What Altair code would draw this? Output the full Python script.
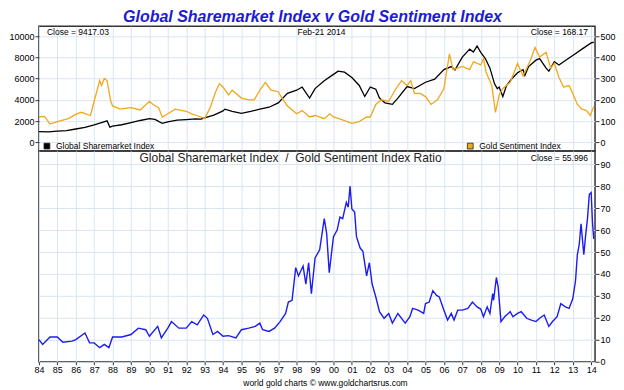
import altair as alt
import pandas as pd

# ---------------- data ----------------
share_year = [1984.0, 1984.5, 1985.0, 1985.5, 1986.0, 1986.5, 1987.0, 1987.4, 1987.7, 1987.85,
              1988.0, 1988.5, 1989.0, 1989.5, 1990.0, 1990.3, 1990.7, 1991.0, 1991.5, 1992.0,
              1992.5, 1992.8, 1993.0, 1993.5, 1994.0, 1994.1, 1994.5, 1995.0, 1995.5, 1996.0,
              1996.5, 1997.0, 1997.5, 1998.0, 1998.3, 1998.7, 1999.0, 1999.5, 2000.0, 2000.25,
              2000.6, 2001.0, 2001.4, 2001.7, 2002.0, 2002.3, 2002.5, 2002.8, 2003.2, 2003.5,
              2004.0, 2004.4, 2005.0, 2005.5, 2006.0, 2006.4, 2006.6, 2007.0, 2007.4, 2007.6,
              2007.8, 2008.0, 2008.25, 2008.5, 2008.75, 2008.9, 2009.0, 2009.2, 2009.4, 2009.7,
              2010.0, 2010.3, 2010.4, 2010.6, 2011.0, 2011.2, 2011.55, 2011.7, 2012.0, 2012.25,
              2012.5, 2013.0, 2013.5, 2014.0, 2014.14]
share_value = [1000, 980, 1040, 1100, 1250, 1400, 1630, 1850, 2020, 1430,
               1520, 1650, 1840, 2050, 2230, 2150, 1780, 1930, 2080, 2140,
               2200, 2180, 2300, 2550, 2950, 3120, 2900, 2730, 2900, 3120,
               3300, 3710, 4610, 4900, 5200, 4160, 5050, 5790, 6390, 6690,
               6600, 6090, 5350, 4310, 5200, 5000, 4160, 3710, 3570, 4160,
               5250, 5050, 5650, 5940, 6840, 7130, 6800, 8020, 8770, 8500,
               9060, 8470, 7880, 6980, 5500, 5050, 5200, 4310, 5350, 6000,
               6540, 6840, 6300, 7130, 7730, 7880, 6980, 6690, 7580, 7280,
               7580, 8170, 8770, 9360, 9417.03]

gold_year = [1984.0, 1984.3, 1984.6, 1985.0, 1985.6, 1986.0, 1986.3, 1986.8, 1987.0, 1987.3,
             1987.4, 1987.55, 1987.7, 1987.9, 1988.0, 1988.4, 1989.0, 1989.5, 1990.0, 1990.2,
             1990.5, 1990.7, 1991.0, 1991.4, 1992.0, 1992.3, 1992.8, 1993.0, 1993.3, 1993.6,
             1993.8, 1994.0, 1994.3, 1994.5, 1995.0, 1995.4, 1995.7, 1996.0, 1996.3, 1996.6,
             1997.0, 1997.2, 1997.5, 1998.0, 1998.3, 1998.7, 1999.0, 1999.5, 1999.8, 2000.0,
             2000.3, 2001.0, 2001.4, 2001.8, 2002.0, 2002.3, 2002.6, 2003.0, 2003.4, 2003.7,
             2004.0, 2004.2, 2004.4, 2004.7, 2005.0, 2005.3, 2005.65, 2006.0, 2006.3, 2006.5,
             2007.0, 2007.4, 2007.6, 2008.0, 2008.15, 2008.3, 2008.6, 2008.8, 2009.0, 2009.2,
             2009.6, 2010.0, 2010.3, 2010.7, 2010.95, 2011.2, 2011.55, 2011.8, 2012.0, 2012.25,
             2012.5, 2012.8, 2013.0, 2013.25, 2013.5, 2013.75, 2013.95, 2014.14]
gold_value = [119, 122, 86, 97, 111, 131, 141, 126, 193, 290,
              267, 300, 290, 193, 171, 156, 163, 152, 193, 178,
              163, 119, 134, 156, 146, 134, 119, 111, 163, 238,
              275, 260, 223, 245, 208, 200, 200, 245, 282, 245,
              238, 208, 171, 134, 149, 119, 126, 111, 134, 119,
              111, 89, 97, 119, 119, 178, 200, 193, 253, 290,
              267, 290, 230, 230, 215, 178, 200, 253, 416, 342,
              357, 342, 379, 364, 394, 327, 267, 141, 223, 253,
              282, 371, 312, 386, 446, 401, 423, 349, 371, 305,
              260, 267, 230, 178, 156, 149, 126, 168.17]

ratio_year = [1984.0, 1984.2, 1984.6, 1985.0, 1985.3, 1985.8, 1986.0, 1986.5, 1986.75, 1987.0,
              1987.3, 1987.55, 1987.8, 1988.0, 1988.5, 1989.0, 1989.4, 1989.8, 1990.0, 1990.45,
              1990.65, 1991.0, 1991.2, 1991.6, 1992.0, 1992.3, 1992.6, 1992.95, 1993.15, 1993.45,
              1993.7, 1994.0, 1994.3, 1994.7, 1995.0, 1995.4, 1995.75, 1996.0, 1996.15, 1996.5,
              1996.8, 1997.1, 1997.4, 1997.55, 1997.75, 1997.95, 1998.1, 1998.35, 1998.5, 1998.65,
              1998.8, 1999.0, 1999.25, 1999.5, 1999.63, 1999.77, 2000.0, 2000.2, 2000.35, 2000.5,
              2000.7, 2000.8, 2000.9, 2001.0, 2001.15, 2001.25, 2001.45, 2001.6, 2001.8, 2001.95,
              2002.1, 2002.3, 2002.5, 2002.75, 2003.0, 2003.2, 2003.5, 2003.9, 2004.15, 2004.3,
              2004.6, 2004.9, 2005.0, 2005.2, 2005.4, 2005.6, 2005.75, 2006.0, 2006.2, 2006.4,
              2006.55, 2006.75, 2007.0, 2007.3, 2007.55, 2007.8, 2008.0, 2008.15, 2008.35, 2008.5,
              2008.65, 2008.7, 2008.85, 2008.95, 2009.1, 2009.3, 2009.6, 2009.75, 2010.0, 2010.2,
              2010.5, 2010.75, 2011.0, 2011.2, 2011.45, 2011.7, 2011.9, 2012.15, 2012.35, 2012.6,
              2012.8, 2013.0, 2013.15, 2013.25, 2013.35, 2013.45, 2013.6, 2013.7, 2013.8, 2013.9,
              2014.0, 2014.07, 2014.14]
ratio_value = [10.1, 7.9, 11.3, 11.3, 8.9, 9.4, 10.1, 13.1, 8.6, 8.6,
               6.4, 7.9, 6.4, 11.3, 11.3, 12.4, 15.3, 14.6, 11.6, 16.1,
               10.9, 15.3, 18.3, 15.3, 15.3, 18.3, 16.8, 21.3, 19.8, 12.4,
               13.8, 11.6, 11.9, 10.9, 14.6, 15.3, 16.1, 17.6, 14.6, 13.8,
               15.3, 18.3, 22.0, 27.2, 28.0, 42.9, 39.1, 43.6, 35.4, 45.1,
               31.0, 47.3, 51.0, 65.2, 58.5, 40.6, 57.0, 60.0, 65.9, 65.2,
               72.6, 70.4, 80.1, 69.6, 68.2, 57.0, 51.8, 50.3, 39.1, 45.1,
               35.4, 29.5, 22.8, 19.8, 22.0, 17.6, 22.0, 17.6, 20.5, 24.3,
               23.5, 22.0, 26.5, 27.2, 32.4, 30.2, 29.5, 23.5, 19.0, 22.0,
               19.0, 23.5, 23.5, 24.3, 27.2, 25.0, 24.0, 20.5, 25.0, 22.0,
               31.0, 28.0, 38.4, 33.9, 18.3, 20.5, 22.8, 20.5, 22.0, 22.8,
               19.8, 19.0, 18.3, 19.8, 21.3, 16.1, 18.3, 20.5, 26.5, 25.0,
               24.3, 28.7, 36.9, 48.8, 53.3, 62.9, 48.8, 57.7, 65.2, 76.3,
               77.1, 63.7, 56.0]

year_ticks = list(range(1984, 2015))
left_ticks = [0, 2000, 4000, 6000, 8000, 10000]
right_ticks = [0, 100, 200, 300, 400, 500]
ratio_ticks = list(range(0, 100, 10))

# ---------------- layout / style ----------------
W = 557
H1 = 125
H2 = 211
FONT = "Liberation Sans"
GRID = "#d8e6f2"
XDOM = [1984, 2014.21]
GOLD = "#f0a81c"
BLUE = "#1c1cee"

share_df = pd.DataFrame({"year": share_year, "value": share_value})
gold_df = pd.DataFrame({"year": gold_year, "value": gold_value})
ratio_df = pd.DataFrame({"year": ratio_year, "value": ratio_value})

xscale = alt.Scale(domain=XDOM, nice=False, zero=False)


def label(text, x, y, align="left", size=8.5, color="#000000", **kw):
    return alt.Chart(pd.DataFrame({"t": [text]})).mark_text(
        align=align, baseline="middle", fontSize=size, font=FONT, color=color, **kw
    ).encode(x=alt.value(x), y=alt.value(y), text="t:N")


def square(x, y, fill):
    return alt.Chart(pd.DataFrame({"t": [0]})).mark_square(
        size=34, fill=fill, stroke="#222222", strokeWidth=0.8, opacity=1
    ).encode(x=alt.value(x), y=alt.value(y))


x_top = alt.X("year:Q", scale=xscale,
              axis=alt.Axis(values=year_ticks, labels=False, ticks=False, domain=False,
                            grid=True, gridColor=GRID, title=None))

gold_line = alt.Chart(gold_df).mark_line(color=GOLD, strokeWidth=1.3).encode(
    x=x_top,
    y=alt.Y("value:Q", scale=alt.Scale(domain=[-41.5, 546], nice=False, zero=False),
            axis=alt.Axis(values=right_ticks, orient="right", title=None, grid=False,
                          domain=False, tickSize=4, labelPadding=1, format="d")),
)
share_line = alt.Chart(share_df).mark_line(color="#000000", strokeWidth=1.3).encode(
    x=x_top,
    y=alt.Y("value:Q", scale=alt.Scale(domain=[-830, 10920], nice=False, zero=False),
            axis=alt.Axis(values=left_ticks, orient="left", title=None, grid=True,
                          gridColor=GRID, domain=False, tickSize=4, labelPadding=1,
                          format="d")),
)

top = alt.layer(
    share_line,
    gold_line,
    label("Global Sharemarket Index v Gold Sentiment Index", 274, -9, align="center",
          size=16, color="#1c1cd0", fontStyle="italic", fontWeight="bold"),
    label("Close = 9417.03", 8, 6),
    label("Feb-21 2014", 283, 6, align="center"),
    label("Close = 168.17", W - 7, 6, align="right"),
    square(8, H1 - 5, "#000000"),
    label("Global Sharemarket Index", 17, H1 - 5),
    square(W - 125, H1 - 5, GOLD),
    label("Gold Sentiment Index", W - 116, H1 - 5),
).resolve_scale(y="independent").properties(width=W, height=H1)

ratio_line = alt.Chart(ratio_df).mark_line(color=BLUE, strokeWidth=1.4).encode(
    x=alt.X("year:Q", scale=xscale,
            axis=alt.Axis(values=year_ticks, title=None, grid=True, gridColor=GRID,
                          domain=False, tickSize=3, labelPadding=1, labelFlush=False,
                          labelOverlap=False,
                          labelExpr="substring(toString(datum.value), 2, 4)")),
    y=alt.Y("value:Q", scale=alt.Scale(domain=[0, 96], nice=False, zero=False),
            axis=alt.Axis(values=ratio_ticks, orient="right", title=None, grid=True,
                          gridColor=GRID, domain=False, tickSize=4, labelPadding=1)),
)

bottom = alt.layer(
    ratio_line,
    label("Global Sharemarket Index\u00a0 /\u00a0 Gold Sentiment Index Ratio", 252, 7,
          align="center", size=12, color="#222222"),
    label("Close = 55.996", W - 7, 7, align="right"),
    label("world gold charts \u00a9 www.goldchartsrus.com", 287, H2 + 21,
          align="center", size=8.5),
).properties(width=W, height=H2)

chart = alt.vconcat(top, bottom, spacing=0, bounds="flush").properties(
    padding=0
).configure_view(
    stroke="#333333", strokeWidth=1.5
).configure_axis(
    labelFont=FONT, labelFontSize=9, labelColor="#000000", tickColor="#333333"
)

chart.save("out.html", embed_options={"renderer": "svg", "actions": False})
